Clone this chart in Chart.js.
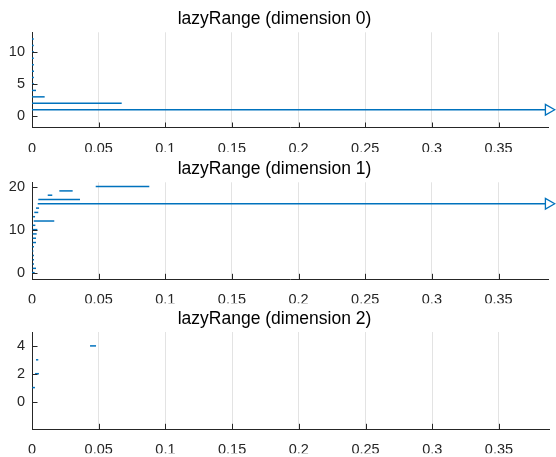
<!DOCTYPE html>
<html>
<head>
<meta charset="utf-8">
<title>lazyRange</title>
<script src="https://cdn.jsdelivr.net/npm/chart.js@4.4.0/dist/chart.umd.min.js"></script>
<style>
  html, body { margin: 0; padding: 0; background: #fff; }
  #wrap { position: relative; width: 556px; height: 457px; }
  #wrap canvas { position: absolute; left: 0; top: 0; }
</style>
</head>
<body>
<div id="wrap">
  <canvas id="dim0" width="556" height="457"></canvas>
  <canvas id="dim1" width="556" height="457"></canvas>
  <canvas id="dim2" width="556" height="457"></canvas>
</div>
<script>
// shared x axis
const xTicks = [0, 0.05, 0.1, 0.15, 0.2, 0.25, 0.3, 0.35];
const xTickLabels = ['0', '0.05', '0.1', '0.15', '0.2', '0.25', '0.3', '0.35'];
const xMin = 0;
const xMax = 0.3875;

// dimension 0: one range per row, Infinity = runs past the axis
const dim0Rows = [1, 2, 3, 4, 5, 6, 7, 8, 9, 10, 11, 12];
const dim0From = [0, 0, 0, 0, 0, 0, 0, 0, 0, 0, 0, 0];
const dim0To   = [Infinity, 0.0673, 0.0095, 0.003, 0.0015, 0.0014, 0.0015, 0.0014, 0.0013, 0.0015, 0.0013, 0.0013];
const dim0YTicks = [0, 5, 10];
const dim0YRange = [-1.85, 13.05];

// dimension 1
const dim1Rows = [0, 1, 2, 3, 4, 5, 6, 7, 8, 9, 10, 11, 12, 13, 14, 15, 16, 17, 18, 19, 20];
const dim1From = [0, 0.0005, 0.0005, 0.0005, 0.0005, 0.0003, 0.0003, 0.0005, 0.0005, 0.0005, 0.0005,
                  0.0005, 0.0013, 0.0008, 0.0017, 0.003, 0.0043, 0.0047, 0.0118, 0.0205, 0.0478];
const dim1To   = [0.002, 0.003, 0.0015, 0.0015, 0.0015, 0.001, 0.0015, 0.003, 0.003, 0.0035, 0.004,
                  0.0025, 0.0167, 0.0023, 0.0047, 0.0053, Infinity, 0.036, 0.0152, 0.0305, 0.088];
const dim1YTicks = [0, 10, 20];
const dim1YRange = [-1.55, 21];

// dimension 2
const dim2Rows = [1, 2, 3, 4];
const dim2From = [0.0002, 0.0023, 0.003, 0.0435];
const dim2To   = [0.0022, 0.0052, 0.0047, 0.048];
const dim2YTicks = [0, 2, 4];
const dim2YRange = [-2, 5];

const BLUE = '#0072BD';
const AXIS = '#262626';
const FONT = 'Helvetica, "Liberation Sans", Arial, sans-serif';

// MATLAB-style tick marks pointing into the axes
const inwardTicks = {
  id: 'inwardTicks',
  afterDatasetsDraw(chart) {
    const { ctx, chartArea: a, scales: { x, y } } = chart;
    ctx.save();
    ctx.strokeStyle = AXIS;
    ctx.lineWidth = 1;
    ctx.beginPath();
    x.ticks.forEach(t => {
      const px = Math.round(x.getPixelForValue(t.value)) + 0.5;
      ctx.moveTo(px, a.bottom);
      ctx.lineTo(px, a.bottom - 5.5);
    });
    y.ticks.forEach(t => {
      const py = Math.round(y.getPixelForValue(t.value)) + 0.5;
      ctx.moveTo(a.left, py);
      ctx.lineTo(a.left + 5.5, py);
    });
    ctx.stroke();
    ctx.restore();
  }
};

function makeRanges(id, title, rows, from, to, yTicks, yRange, top, bottom) {
  const datasets = rows.map((row, i) => {
    const open = to[i] > xMax;
    return {
      data: [{ x: from[i], y: row }, { x: Math.min(to[i], xMax), y: row }],
      showLine: true,
      borderColor: BLUE,
      borderWidth: 1.5,
      pointStyle: 'triangle',
      rotation: 90,
      pointRadius: [0, open ? 6.2 : 0],
      pointBackgroundColor: '#fff',
      pointBorderColor: BLUE,
      pointBorderWidth: 1.3,
      clip: false
    };
  });

  const titleGap = 13.3;
  const titleSize = 17.5;
  const lineH = titleSize * 1.2;
  const xAxisH = 24;

  return new Chart(document.getElementById(id), {
    type: 'scatter',
    data: { datasets },
    options: {
      responsive: false,
      animation: false,
      events: [],
      layout: {
        padding: {
          left: 0,
          right: 7,
          top: top - titleGap - lineH / 2,
          bottom: 457 - bottom - xAxisH
        }
      },
      plugins: {
        legend: { display: false },
        tooltip: { enabled: false },
        title: {
          display: true,
          text: title,
          color: '#000',
          font: { family: FONT, size: titleSize, weight: 'normal' },
          padding: { top: 0, bottom: titleGap - lineH / 2 }
        }
      },
      scales: {
        x: {
          type: 'linear',
          min: xMin,
          max: xMax,
          afterBuildTicks: s => { s.ticks = xTicks.map(v => ({ value: v })); },
          afterFit: s => { s.height = xAxisH; },
          ticks: {
            color: AXIS,
            padding: 12,
            maxRotation: 0,
            font: { family: FONT, size: 14.5 },
            callback: (v, i) => xTickLabels[i]
          },
          grid: { color: '#e3e3e3', lineWidth: 1, drawTicks: false },
          border: { color: AXIS, width: 1 }
        },
        y: {
          type: 'linear',
          min: yRange[0],
          max: yRange[1],
          afterBuildTicks: s => { s.ticks = yTicks.map(v => ({ value: v })); },
          afterFit: s => { s.width = 32; },
          ticks: {
            color: AXIS,
            padding: 7,
            font: { family: FONT, size: 14.5 },
            callback: v => String(v)
          },
          grid: { display: false, drawTicks: false },
          border: { color: AXIS, width: 1 }
        }
      }
    },
    plugins: [inwardTicks]
  });
}

makeRanges('dim0', 'lazyRange (dimension 0)', dim0Rows, dim0From, dim0To, dim0YTicks, dim0YRange, 32.3, 128);
makeRanges('dim1', 'lazyRange (dimension 1)', dim1Rows, dim1From, dim1To, dim1YTicks, dim1YRange, 182.3, 279.3);
makeRanges('dim2', 'lazyRange (dimension 2)', dim2Rows, dim2From, dim2To, dim2YTicks, dim2YRange, 332, 429.3);
</script>
</body>
</html>
